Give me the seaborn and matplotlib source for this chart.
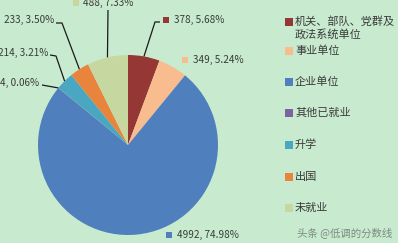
import numpy as np
import matplotlib
matplotlib.use("Agg")
import matplotlib.pyplot as plt
import seaborn as sns

categories = ["机关、部队、党群及\n政法系统单位", "事业单位", "企业单位", "其他已就业", "升学", "出国", "未就业"]
values = [378, 349, 4992, 4, 214, 233, 488]
pct_labels = ["5.68%", "5.24%", "74.98%", "0.06%", "3.21%", "3.50%", "7.33%"]
colors = ["#953735", "#f9bc8f", "#4f7fbd", "#7f62a0", "#4aa7c2", "#e8843c", "#c6d8a0"]

sns.set_theme(style="white")
plt.rcParams["font.family"] = ["Noto Sans CJK SC", "DejaVu Sans"]

W, H = 398, 243
BG = "#c8ebd0"
fig = plt.figure(figsize=(W / 100, H / 100), dpi=100, facecolor=BG)
ax = fig.add_axes([0, 0, 1, 1])
ax.set_facecolor(BG)

pal = sns.color_palette(colors)
cx, cy, r = 128, H - 145, 90
wedges, _ = ax.pie(values, colors=pal, startangle=90, counterclock=False,
                   center=(cx, cy), radius=r, frame=True,
                   wedgeprops=dict(linewidth=0))
ax.set_xlim(0, W)
ax.set_ylim(0, H)
ax.set_aspect("equal")
ax.axis("off")

txt_col = "#3a3a3a"
fs = 7.2

def edge_point(w):
    ang = np.deg2rad((w.theta1 + w.theta2) / 2)
    return cx + r * np.cos(ang), cy + r * np.sin(ang)

layout = {
    0: dict(x=174, y=20, ha="left", sq=166, path=[(160, 22), (155, 22)]),
    1: dict(x=193, y=60, ha="left", sq=185, path=None),
    2: dict(x=177, y=235, ha="left", sq=169, path=None),
    3: dict(x=39, y=83, ha="right", sq=None, path=[(42, 85)]),
    4: dict(x=48, y=53, ha="right", sq=None, path=[(50, 55), (56, 56)]),
    5: dict(x=54, y=20, ha="right", sq=None, path=[(56, 23), (62, 23)]),
    6: dict(x=83, y=3, ha="left", sq=76, path=[(108, 10)]),
}

for i, w in enumerate(wedges):
    L = layout[i]
    label = f"{values[i]}, {pct_labels[i]}"
    ax.text(L["x"], H - L["y"], label, ha=L["ha"], va="center", fontsize=fs, color=txt_col)
    if L["sq"] is not None:
        ax.scatter([L["sq"]], [H - L["y"]], marker="s", s=22, color=pal[i], linewidths=0)
    if L["path"]:
        ex, ey = edge_point(w)
        pts = [(px, H - py) for px, py in L["path"]] + [(ex, ey)]
        xs, ys = zip(*pts)
        ax.plot(xs, ys, color="#1a1a1a", lw=0.9, solid_capstyle="butt")

leg_y = [22, 51, 82, 113, 145, 177, 208]
for i, cat in enumerate(categories):
    y = leg_y[i]
    ax.scatter([289], [H - y], marker="s", s=26, color=pal[i], linewidths=0)
    lines = cat.split("\n")
    for k, line in enumerate(lines):
        ax.text(295, H - (y + 12 * k), line, ha="left", va="center", fontsize=8, color=txt_col)

ax.text(297, H - 233, "头条 @低调的分数线", ha="left", va="center", fontsize=7.5, color="#7d8a80")

fig.savefig("out.png", dpi=100, facecolor=BG)
